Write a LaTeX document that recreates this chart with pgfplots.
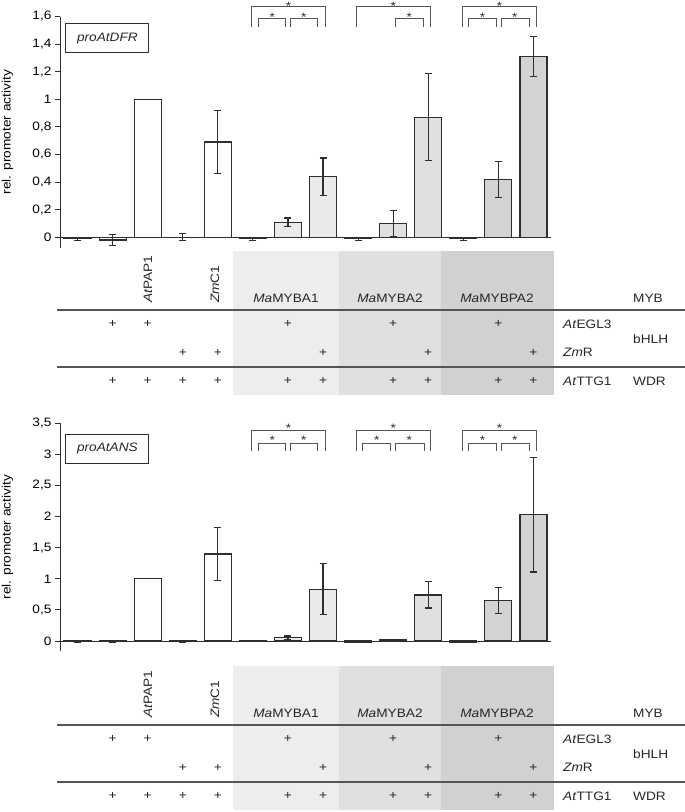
\documentclass[border=0pt]{standalone}
\usepackage{fontspec}
\setmainfont{Liberation Sans}[FakeStretch=1.12]
\usepackage{pgfplots}
\pgfplotsset{compat=1.18}

\definecolor{edge}{HTML}{2E2E2E}
\definecolor{gA}{HTML}{EAEAEA}
\definecolor{gB}{HTML}{E0E0E0}
\definecolor{gC}{HTML}{D3D3D3}
\definecolor{sA}{HTML}{EDEDED}
\definecolor{sB}{HTML}{E0E0E0}
\definecolor{sC}{HTML}{D1D1D1}
\definecolor{rulec}{HTML}{555555}
\newcommand{\fs}{\fontsize{12.2}{15}\selectfont}

\tikzset{brk/.style={rulec, line width=0.8pt}}

\pgfplotsset{
  panel/.style={
    scale only axis, x=35.07pt, xmin=0.5, xmax=14.5,
    axis y line*=left, axis x line=none, xtick=\empty,
    clip=false,
    tick align=outside, major tick length=5pt,
    y axis line style={edge, line width=0.9pt},
    ytick style={edge, line width=0.9pt},
    tick label style={font=\fs},
    yticklabel style={/pgf/number format/.cd, use comma, fixed, precision=1, assume math mode=true},
    ylabel={rel. promoter activity},
    ylabel style={font=\fs, at={(axis description cs:-0.107,0.5)}, anchor=center},
  },
  bars/.style={ybar, bar width=27pt, draw=edge, line width=1.2pt, fill=#1,
    error bars/.cd, y dir=both, y explicit,
    error bar style={line width=1.1pt, edge},
    error mark options={rotate=90, mark size=3.5pt, line width=1.1pt, edge}},
}

% significance bracket: left x, right x, top y, leg end y
\newcommand{\brk}[4]{\draw[brk] (axis cs:#1,#4) |- (axis cs:#2,#3) -- (axis cs:#2,#4);}
\newcommand{\sigstar}[2]{\node[font=\fs, inner sep=0pt, anchor=base, text=edge] at (axis cs:#1,#2) {*};}

% combination table below a panel, #1 = y of the MYB row (px from top)
\newcommand{\tbl}[1]{%
  \fill[sA] (233,{-(#1-47)}) rectangle (339,{-(#1+97)});
  \fill[sB] (339,{-(#1-47)}) rectangle (441,{-(#1+97)});
  \fill[sC] (441,{-(#1-47)}) rectangle (554,{-(#1+97)});
  \draw[rulec, line width=1.3pt] (57,{-(#1+12)}) -- (685,{-(#1+12)});
  \draw[rulec, line width=1.3pt] (57,{-(#1+69)}) -- (685,{-(#1+69)});
  \node[rotate=90, anchor=west, inner sep=0pt] at (148,{-(#1+5)}) {\textit{At}PAP1};
  \node[rotate=90, anchor=west, inner sep=0pt] at (215,{-(#1+5)}) {\textit{Zm}C1};
  \node at (286,-#1) {\textit{Ma}MYBA1};
  \node at (390,-#1) {\textit{Ma}MYBA2};
  \node at (497,-#1) {\textit{Ma}MYBPA2};
  \node[anchor=west, inner sep=0pt] at (633,-#1) {MYB};
  \foreach \i in {2,3,7,10,13} \node at ({60+(\i-0.5)*35.07},{-(#1+26)}) {+};
  \foreach \i in {4,5,8,11,14} \node at ({60+(\i-0.5)*35.07},{-(#1+54.5)}) {+};
  \foreach \i in {2,3,4,5,7,8,10,11,13,14} \node at ({60+(\i-0.5)*35.07},{-(#1+83)}) {+};
  \node[anchor=west, inner sep=0pt] at (563,{-(#1+26)}) {\textit{At}EGL3};
  \node[anchor=west, inner sep=0pt] at (563,{-(#1+54.5)}) {\textit{Zm}R};
  \node[anchor=west, inner sep=0pt] at (563,{-(#1+83)}) {\textit{At}TTG1};
  \node[anchor=west, inner sep=0pt] at (633,{-(#1+41)}) {bHLH};
  \node[anchor=west, inner sep=0pt] at (633,{-(#1+83)}) {WDR};
}

\begin{document}
\begin{tikzpicture}[x=1pt, y=1pt]
\useasboundingbox (0,0) rectangle (685,-812);

% ---------------- top panel: proAtDFR ----------------
\begin{axis}[panel, at={(60pt,-247.65pt)}, anchor=south west,
  y=138pt, ymin=-0.075, ymax=1.6,
  ytick={0,0.2,0.4,0.6,0.8,1,1.2,1.4,1.6}]
  \draw[edge, line width=0.9pt] (axis cs:0.5,0) -- (axis cs:14.5,0);
  \addplot[bars=white] coordinates {
    (1,-0.01) +- (0,0.01)
    (2,-0.02) +- (0,0.04)
    (3,1.00)  +- (0,0)
    (4,0.00)  +- (0,0.025)
    (5,0.69)  +- (0,0.23)
  };
  \addplot[bars=gA] coordinates {
    (6,-0.01) +- (0,0.01)
    (7,0.11)  +- (0,0.03)
    (8,0.44)  +- (0,0.135)
  };
  \addplot[bars=gB] coordinates {
    (9,-0.01)  +- (0,0.01)
    (10,0.10)  +- (0,0.095)
    (11,0.87)  +- (0,0.315)
  };
  \addplot[bars=gC] coordinates {
    (12,-0.01) +- (0,0.01)
    (13,0.42)  +- (0,0.13)
    (14,1.31)  +- (0,0.145)
  };
  % brackets
  \brk{5.97}{8.08}{1.671}{1.522}
  \brk{6.15}{6.92}{1.583}{1.522}
  \brk{7.08}{7.85}{1.583}{1.522}
  \sigstar{7.02}{1.64} \sigstar{6.55}{1.562} \sigstar{7.45}{1.562}
  \brk{8.95}{11.07}{1.671}{1.522}
  \brk{10.07}{10.85}{1.583}{1.522}
  \sigstar{10.0}{1.64} \sigstar{10.46}{1.562}
  \brk{11.97}{14.09}{1.671}{1.522}
  \brk{12.14}{12.93}{1.583}{1.522}
  \brk{13.10}{13.88}{1.583}{1.522}
  \sigstar{13.03}{1.64} \sigstar{12.55}{1.562} \sigstar{13.47}{1.562}
\end{axis}

% ---------------- bottom panel: proAtANS ----------------
\begin{axis}[panel, at={(60pt,-650.95pt)}, anchor=south west,
  y=62.2pt, ymin=-0.16, ymax=3.5,
  ytick={0,0.5,1,1.5,2,2.5,3,3.5}]
  \draw[edge, line width=0.9pt] (axis cs:0.5,0) -- (axis cs:14.5,0);
  \addplot[bars=white] coordinates {
    (1,-0.01) +- (0,0.01)
    (2,-0.01) +- (0,0.01)
    (3,1.00)  +- (0,0)
    (4,-0.01) +- (0,0.01)
    (5,1.40)  +- (0,0.43)
  };
  \addplot[bars=gA] coordinates {
    (6,-0.005) +- (0,0.005)
    (7,0.05)   +- (0,0.03)
    (8,0.83)   +- (0,0.41)
  };
  \addplot[bars=gB] coordinates {
    (9,-0.02)  +- (0,0.01)
    (10,0.02)  +- (0,0.01)
    (11,0.74)  +- (0,0.21)
  };
  \addplot[bars=gC] coordinates {
    (12,-0.02) +- (0,0.01)
    (13,0.65)  +- (0,0.21)
    (14,2.03)  +- (0,0.92)
  };
  \brk{5.97}{8.08}{3.39}{3.06}
  \brk{6.15}{6.92}{3.18}{3.06}
  \brk{7.08}{7.85}{3.18}{3.06}
  \sigstar{7.02}{3.35} \sigstar{6.55}{3.16} \sigstar{7.45}{3.16}
  \brk{8.95}{11.07}{3.39}{3.06}
  \brk{9.13}{9.92}{3.18}{3.06}
  \brk{10.07}{10.88}{3.18}{3.06}
  \sigstar{10.0}{3.35} \sigstar{9.53}{3.16} \sigstar{10.46}{3.16}
  \brk{11.97}{14.09}{3.39}{3.06}
  \brk{12.14}{12.93}{3.18}{3.06}
  \brk{13.10}{13.88}{3.18}{3.06}
  \sigstar{13.03}{3.35} \sigstar{12.55}{3.16} \sigstar{13.47}{3.16}
\end{axis}

% ---------------- panel labels and tables ----------------
\begin{scope}[every node/.style={font=\fs, text=black!85}]
  \node[draw=edge, line width=1pt, minimum width=83pt, minimum height=29pt, font=\fs\itshape] at (107.4,-38.4) {proAtDFR};
  \node[draw=edge, line width=1pt, minimum width=83pt, minimum height=29pt, font=\fs\itshape] at (107.4,-448.7) {proAtANS};
  \tbl{298}
  \tbl{713}
\end{scope}
\end{tikzpicture}
\end{document}
